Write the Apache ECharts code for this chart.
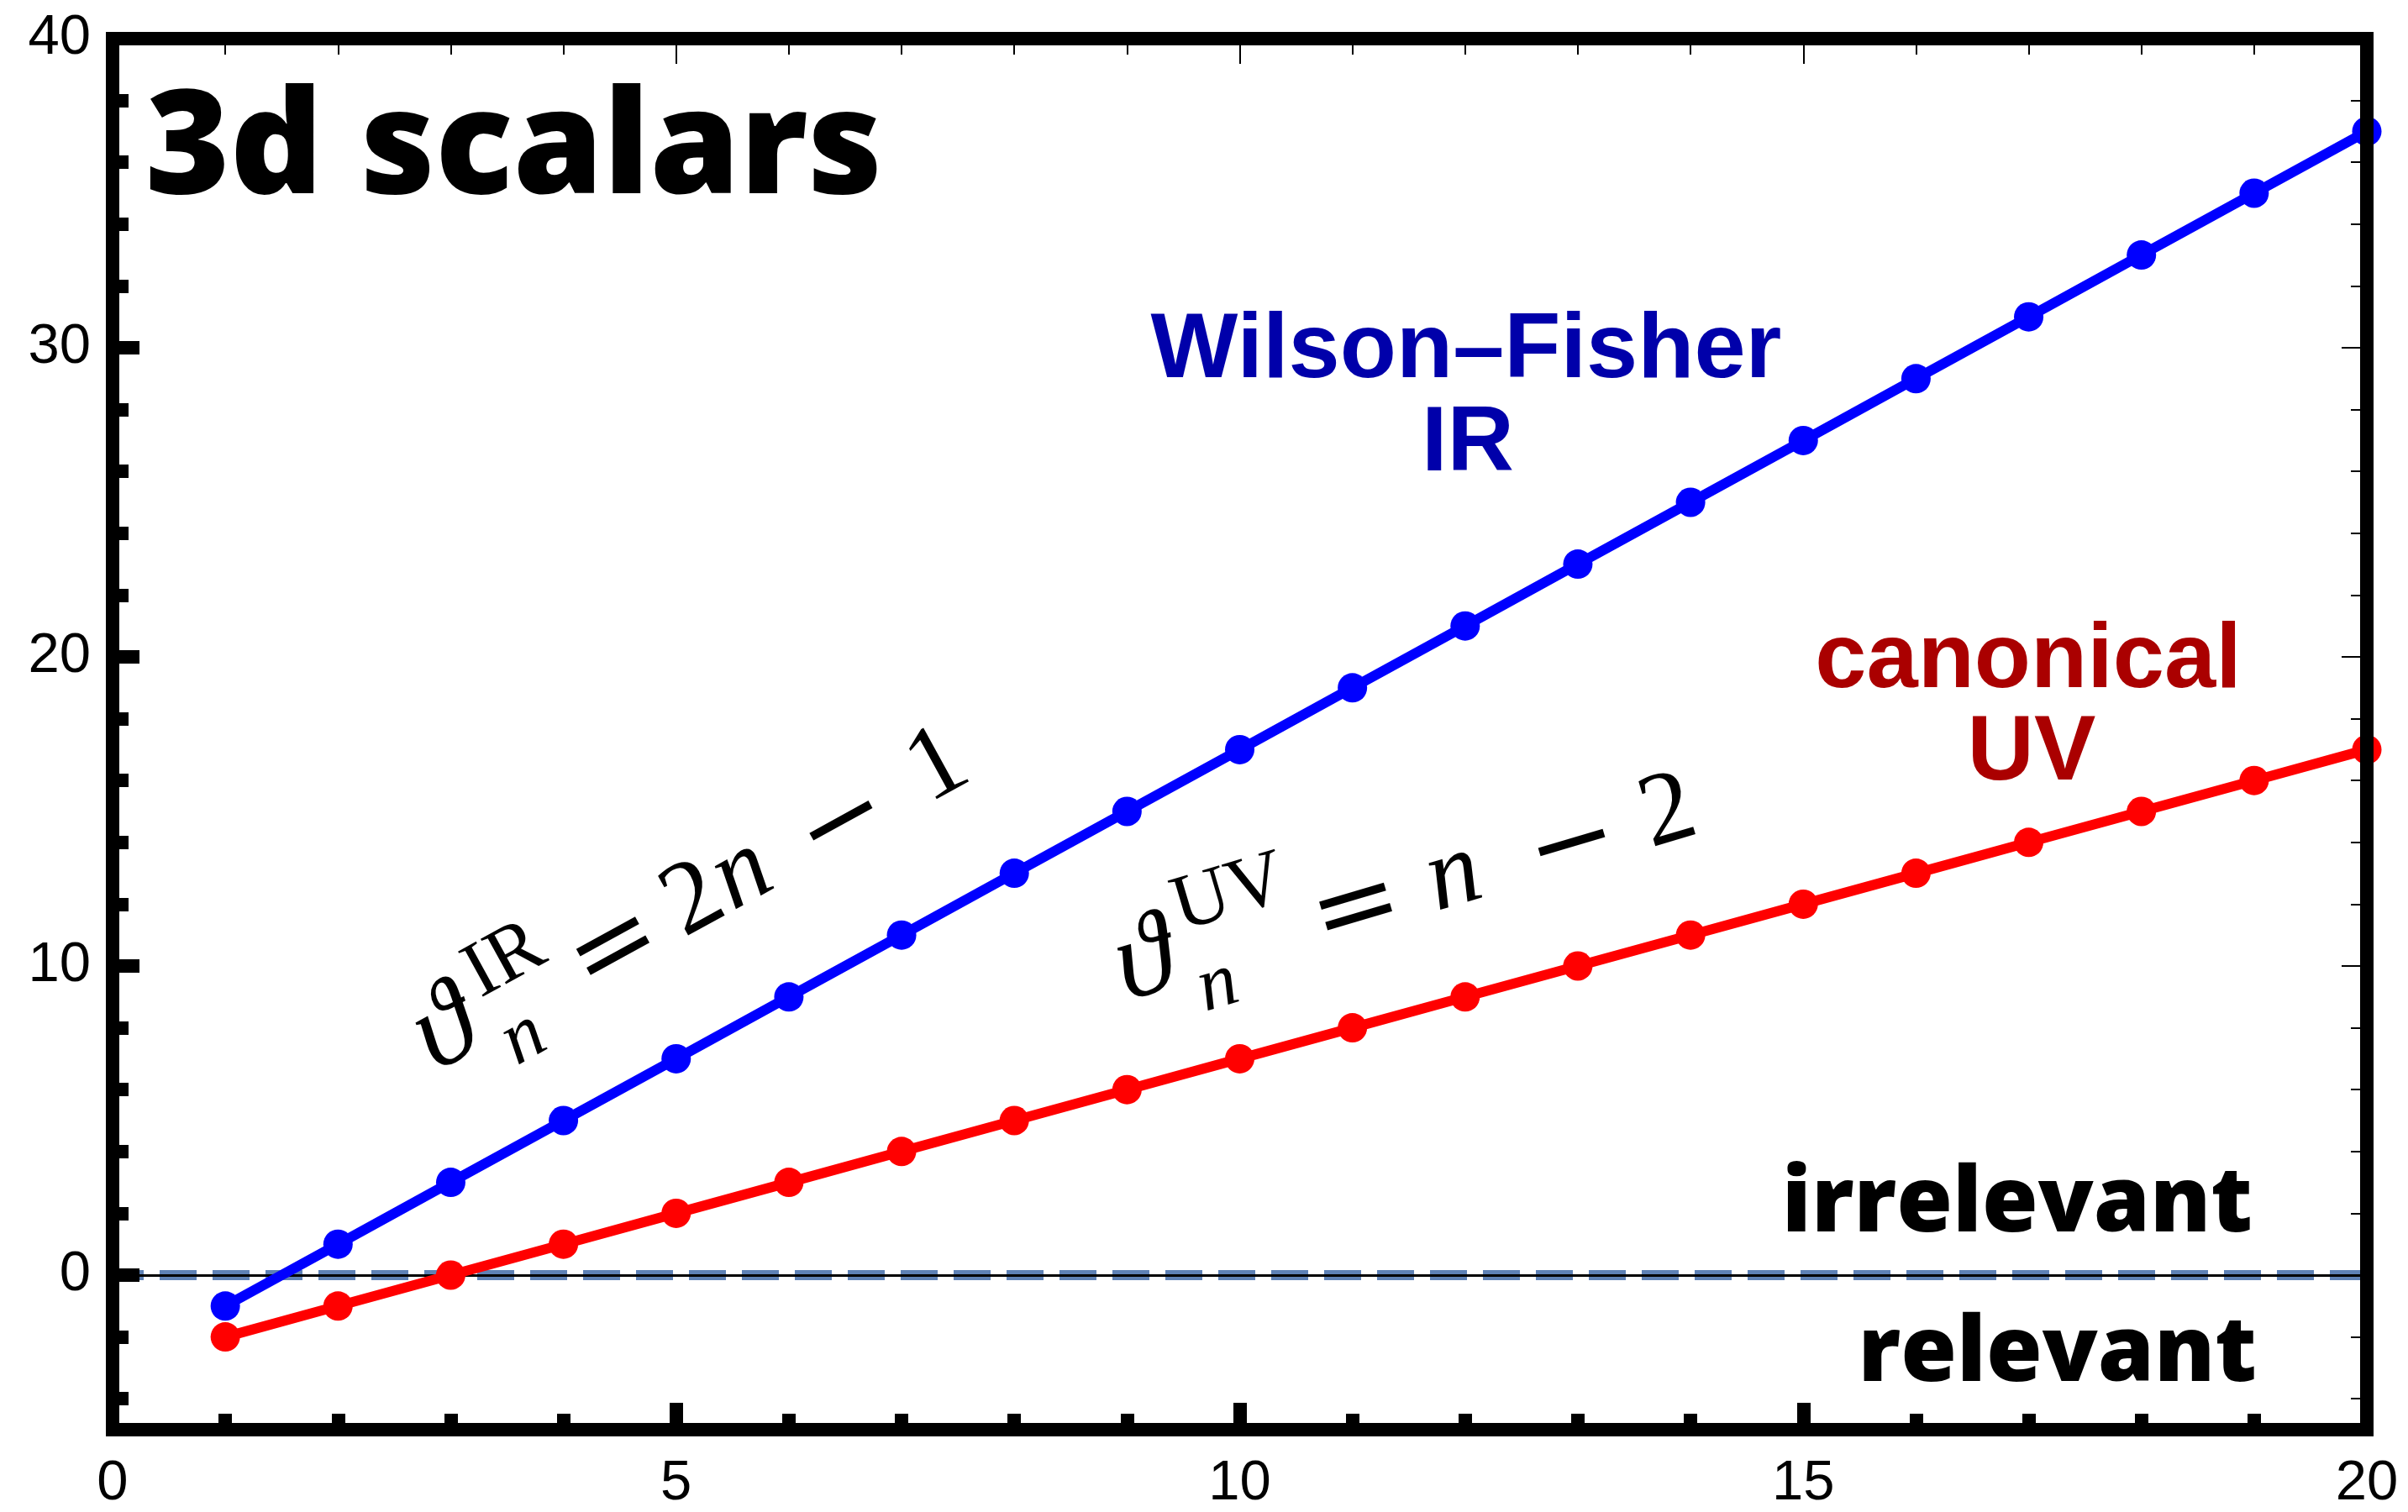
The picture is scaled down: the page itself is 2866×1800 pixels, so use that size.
<!DOCTYPE html>
<html><head><meta charset="utf-8">
<script src="https://cdn.jsdelivr.net/npm/echarts@6/dist/echarts.min.js"></script>
<style>html,body{margin:0;padding:0;background:#fff}#c{width:2866px;height:1800px}</style>
</head><body><div id="c"></div>
<script>
// ---- data ----
const nValues = [1,2,3,4,5,6,7,8,9,10,11,12,13,14,15,16,17,18,19,20];
const wilsonFisherIR = [-1,1,3,5,7,9,11,13,15,17,19,21,23,25,27,29,31,33,35,37];
const canonicalUV = [-2,-1,0,1,2,3,4,5,6,7,8,9,10,11,12,13,14,15,16,17];
const xMajorTicks = [0,5,10,15,20];
const xMinorTicks = [1,2,3,4,6,7,8,9,11,12,13,14,16,17,18,19];
const yMajorTicks = [0,10,20,30,40];
const yMinorTicks = [-4,-2,2,4,6,8,12,14,16,18,22,24,26,28,32,34,36,38];
const xRange = [0,20];
const yRange = [-5,40];
const thresholdLevel = 0;

// ---- styles ----
const FRAME = 16;
const labelFont = {fontSize:67, fontFamily:'Liberation Sans, Arial, sans-serif', color:'#000'};

function xAxisDef(pos, values, len, width, showLabel, showLine){
  return {type:'value', position:pos, min:xRange[0], max:xRange[1], z:10,
    axisLine:{show:showLine, onZero:false, lineStyle:{color:'#000', width:FRAME, cap:'square'}},
    axisTick:{show:true, inside:true, customValues:values, length:len, lineStyle:{color:'#000', width:width}},
    axisLabel: showLabel ? Object.assign({show:true, customValues:values, margin:31}, labelFont) : {show:false},
    splitLine:{show:false}};
}
function yAxisDef(pos, values, len, width, showLabel, showLine){
  return {type:'value', position:pos, min:yRange[0], max:yRange[1], z:10,
    axisLine:{show:showLine, onZero:false, lineStyle:{color:'#000', width:FRAME, cap:'square'}},
    axisTick:{show:true, inside:true, customValues:values, length:len, lineStyle:{color:'#000', width:width}},
    axisLabel: showLabel ? Object.assign({show:true, customValues:values, margin:26}, labelFont) : {show:false},
    splitLine:{show:false}};
}

const chart = echarts.init(document.getElementById('c'), null, {renderer:'canvas'});

function txt(text, x, y, opt){
  return {type:'text', x:x, y:y, z:20, style:Object.assign({text:text, fill:'#000',
    align:'center', verticalAlign:'middle', textAlign:'center', textVerticalAlign:'middle'}, opt)};
}
const serif = 'Liberation Serif, DejaVu Serif, serif';
const dserif = 'DejaVu Serif, Liberation Serif, serif';
function mainG(t, u, italic){ return txt(t, u, -4, {fontSize:124, fontFamily:serif, fontStyle: italic?'italic':'normal'}); }
function thetaG(u){ return txt('\u03d1', u, -10, {fontSize:138, fontFamily:serif, fontStyle:'italic'}); }
function opG(t, u){ return txt(t, u, 3, {fontSize:128, fontFamily:dserif}); }

const irFormula = {type:'group', x:761, y:1113, rotation:28.8*Math.PI/180, children:[
  thetaG(-258),
  txt('IR', -155, -50, {fontSize:94, fontFamily:serif}),
  txt('n', -180, 42, {fontSize:92, fontFamily:serif, fontStyle:'italic'}),
  opG('=', -34),
  mainG('2', 76, false),
  mainG('n', 142, true),
  opG('\u2212', 276),
  mainG('1', 408, false)
]};
const uvFormula = {type:'group', x:1651, y:1072, rotation:16.5*Math.PI/180, children:[
  thetaG(-298),
  txt('UV', -178, -60, {fontSize:94, fontFamily:serif}),
  txt('n', -222, 41, {fontSize:92, fontFamily:serif, fontStyle:'italic'}),
  opG('=', -38),
  mainG('n', 84, true),
  opG('\u2212', 230),
  mainG('2', 350, false)
]};

const heavy = {fontFamily:'Open Sans, Lato, sans-serif', fontWeight:800};
const boldSans = {fontFamily:'Liberation Sans, Arial, sans-serif', fontWeight:'bold', fontSize:110};

const option = {
  backgroundColor:'#fff',
  animation:false,
  grid:{left:134, right:49, top:46, bottom:95, containLabel:false},
  xAxis:[
    xAxisDef('bottom', xMajorTicks, 32, FRAME, true, true),
    xAxisDef('bottom', xMinorTicks, 19, FRAME, false, false),
    xAxisDef('top', xMajorTicks, 30, 2, false, true),
    xAxisDef('top', xMinorTicks, 19, 2, false, false)
  ],
  yAxis:[
    yAxisDef('left', yMajorTicks, 32, FRAME, true, true),
    yAxisDef('left', yMinorTicks, 19, FRAME, false, false),
    yAxisDef('right', yMajorTicks, 30, 2, false, true),
    yAxisDef('right', yMinorTicks, 19, 2, false, false)
  ],
  series:[
    {type:'line', name:'canonical UV', xAxisIndex:0, yAxisIndex:0, z:3,
     data:nValues.map((n,i)=>[n, canonicalUV[i]]),
     symbol:'circle', symbolSize:35, clip:false,
     lineStyle:{color:'#ff0000', width:12}, itemStyle:{color:'#ff0000'},
     markLine:{silent:true, z:1, symbol:['none','none'], label:{show:false},
       data:[
         {yAxis:thresholdLevel, lineStyle:{type:[44,19], dashOffset:7, width:12, color:'#5e81b5'}},
         {yAxis:thresholdLevel, lineStyle:{type:'solid', width:3, color:'#000'}}
       ]}},
    {type:'line', name:'Wilson–Fisher IR', xAxisIndex:0, yAxisIndex:0, z:4,
     data:nValues.map((n,i)=>[n, wilsonFisherIR[i]]),
     symbol:'circle', symbolSize:35, clip:false,
     lineStyle:{color:'#0000ff', width:12}, itemStyle:{color:'#0000ff'}}
  ],
  graphic:[
    {type:'text', x:173, y:181, z:20, style:Object.assign({text:'3d scalars', fill:'#000', fontSize:172,
      align:'left', verticalAlign:'middle', textAlign:'left', textVerticalAlign:'middle'}, heavy)},
    {type:'text', x:2681, y:1435, z:20, style:Object.assign({text:'irrelevant', fill:'#000', fontSize:108,
      align:'right', verticalAlign:'middle', textAlign:'right', textVerticalAlign:'middle'}, heavy)},
    {type:'text', x:2686, y:1613, z:20, style:Object.assign({text:'relevant', fill:'#000', fontSize:108,
      align:'right', verticalAlign:'middle', textAlign:'right', textVerticalAlign:'middle'}, heavy)},
    txt('Wilson\u2013Fisher', 1745, 419, Object.assign({fill:'#0000aa'}, boldSans)),
    txt('IR', 1747, 530, Object.assign({fill:'#0000aa'}, boldSans)),
    txt('canonical', 2414, 788, Object.assign({fill:'#aa0000'}, boldSans)),
    txt('UV', 2418, 898, Object.assign({fill:'#aa0000'}, boldSans)),
    irFormula,
    uvFormula
  ]
};
chart.setOption(option);
</script></body></html>
